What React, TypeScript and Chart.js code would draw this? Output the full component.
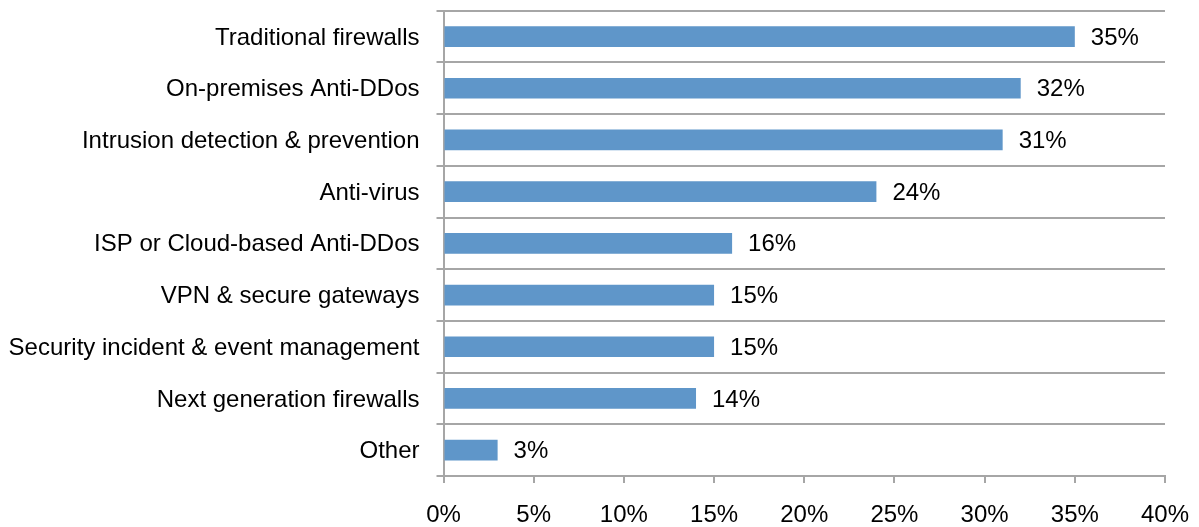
import { useEffect, useRef } from "react";
import { Chart, registerables } from "chart.js";

Chart.register(...registerables);

// Security technologies in use, share of respondents (%)
const categories: string[] = [
  "Traditional firewalls",
  "On-premises Anti-DDos",
  "Intrusion detection & prevention",
  "Anti-virus",
  "ISP or Cloud-based Anti-DDos",
  "VPN & secure gateways",
  "Security incident & event management",
  "Next generation firewalls",
  "Other",
];
const shares: number[] = [35, 32, 31, 24, 16, 15, 15, 14, 3];
const axisMin = 0;
const axisMax = 40;
const axisStep = 5;

const FONT_FAMILY = "'Liberation Sans', Arial, Helvetica, sans-serif";
const FONT_SIZE = 24;
const BAR_COLOR = "#5f96c9";
const GRID_COLOR = "#a6a6a6";
const TEXT_COLOR = "#000000";

const valueLabels = {
  id: "valueLabels",
  afterDatasetsDraw(chart: Chart) {
    const ctx = chart.ctx;
    const meta = chart.getDatasetMeta(0);
    const values = chart.data.datasets[0].data as number[];
    ctx.save();
    ctx.font = `${FONT_SIZE}px ${FONT_FAMILY}`;
    ctx.fillStyle = TEXT_COLOR;
    ctx.textAlign = "left";
    ctx.textBaseline = "middle";
    meta.data.forEach((bar: any, i: number) => {
      ctx.fillText(`${values[i]}%`, bar.x + 16, bar.y + 1.5);
    });
    ctx.restore();
  },
};

// Keep the plot area at fixed edges: no extra room reserved for tick labels.
const clearPadding = (scale: any) => {
  scale.paddingTop = 0;
  scale.paddingBottom = 0;
  scale.paddingLeft = 0;
  scale.paddingRight = 0;
};

export default function App() {
  const canvasRef = useRef<HTMLCanvasElement | null>(null);

  useEffect(() => {
    if (!canvasRef.current) return;
    const chart = new Chart(canvasRef.current, {
      type: "bar",
      data: {
        labels: categories,
        datasets: [
          {
            data: shares,
            backgroundColor: BAR_COLOR,
            borderWidth: 0,
            barPercentage: 0.4,
            categoryPercentage: 1,
          },
        ],
      },
      plugins: [valueLabels],
      options: {
        indexAxis: "y",
        animation: false,
        responsive: false,
        maintainAspectRatio: false,
        layout: { padding: { top: 10.7, right: 34, left: 0, bottom: 0 } },
        plugins: {
          legend: { display: false },
          tooltip: { enabled: false },
        },
        scales: {
          x: {
            type: "linear",
            min: axisMin,
            max: axisMax,
            afterFit: (scale: any) => {
              scale.height = 51;
              clearPadding(scale);
            },
            ticks: {
              stepSize: axisStep,
              padding: 18,
              color: TEXT_COLOR,
              font: { family: FONT_FAMILY, size: FONT_SIZE },
              callback: (v: any) => `${v}%`,
            },
            grid: {
              display: true,
              drawOnChartArea: false,
              drawTicks: true,
              tickLength: 7,
              color: GRID_COLOR,
              lineWidth: 2,
            },
            border: { display: true, color: GRID_COLOR, width: 2 },
          },
          y: {
            type: "category",
            afterFit: (scale: any) => {
              scale.width = 443.5;
              clearPadding(scale);
            },
            ticks: {
              padding: 17,
              labelOffset: 1.5,
              color: TEXT_COLOR,
              font: { family: FONT_FAMILY, size: FONT_SIZE },
            },
            grid: {
              display: true,
              offset: true,
              drawOnChartArea: true,
              drawTicks: true,
              tickLength: 7,
              color: GRID_COLOR,
              lineWidth: 2,
            },
            border: { display: true, color: GRID_COLOR, width: 2 },
          },
        },
      },
    });
    return () => chart.destroy();
  }, []);

  return (
    <div
      style={{
        position: "fixed",
        left: 0,
        top: 0,
        width: 1199,
        height: 527,
        background: "#ffffff",
      }}
    >
      <canvas ref={canvasRef} width={1199} height={527} />
    </div>
  );
}
